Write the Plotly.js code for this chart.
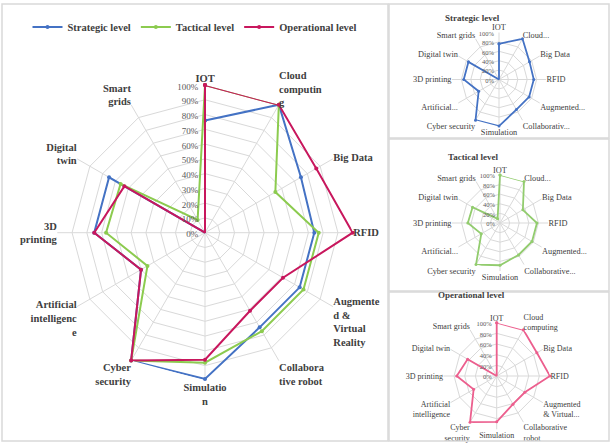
<!DOCTYPE html>
<html>
<head>
<meta charset="utf-8">
<script src="https://cdn.plot.ly/plotly-3.0.1.min.js"></script>
<style>html,body{margin:0;padding:0;background:#fff;}#chart{width:610px;height:443px;}</style>
</head>
<body>
<div id="chart"></div>
<script>
// ---- data ----
const categories = ['IOT','Cloud computing','Big Data','RFID','Augmented & Virtual Reality','Collaborative robot','Simulation','Cyber security','Artificial intelligence','3D printing','Digital twin','Smart grids'];
const strategic   = [0.76, 1.00, 0.75, 0.74, 0.74, 0.74, 0.99, 1.00, 0.50, 0.75, 0.75, 0.00];
const tactical    = [1.00, 1.00, 0.55, 0.77, 0.77, 0.77, 0.88, 1.00, 0.45, 0.67, 0.66, 0.10];
const operational = [1.00, 1.00, 0.87, 1.00, 0.61, 0.61, 0.86, 1.00, 0.50, 0.75, 0.63, 0.00];
const seriesNames = ['Strategic level','Tactical level','Operational level'];
const panelTitles = ['Strategic level','Tactical level','Operational level'];

const mainLabels = ['IOT','Cloud<br>computin<br>g','Big Data','RFID','Augmente<br>d &<br>Virtual<br>Reality','Collabora<br>tive robot','Simulatio<br>n','Cyber<br>security','Artificial<br>intelligenc<br>e','3D<br>printing','Digital<br>twin','Smart<br>grids'];
const strategicLabels = ['IOT','Cloud...','Big Data','RFID','Augmented...','Collaborativ...','Simulation','Cyber security','Artificial...','3D printing','Digital twin','Smart grids'];
const tacticalLabels = ['IOT','Cloud...','Big Data','RFID','Augmented...','Collaborative...','Simulation','Cyber security','Artificial...','3D printing','Digital twin','Smart grids'];
const operationalLabels = ['IOT','Cloud<br>computing','Big Data','RFID','Augmented<br>& Virtual...','Collaborative<br>robot','Simulation','Cyber<br>security','Artificial<br>intelligence','3D printing','Digital twin','Smart grids'];

// ---- styling ----
const W = 610, H = 443;
const mainColors = ['#4472C4', '#8CCB4F', '#C8175D'];
const smallColors = ['#4472C4', '#92CC6E', '#EC5F8E'];
const serif = 'Liberation Serif';

function closed(arr) { return arr.concat([arr[0]]); }
function bold(s) { return s.split('<br>').map(p => '<b>' + p + '</b>').join('<br>'); }

function domainFor(cx, cy, R) {
  return { x: [(cx - R) / W, (cx + R) / W], y: [(H - cy - R) / H, (H - cy + R) / H] };
}

const allSeries = [strategic, tactical, operational];
const traces = [];
allSeries.forEach((vals, i) => {
  traces.push({
    type: 'scatterpolar', subplot: 'polar', name: bold(seriesNames[i]),
    r: closed(vals), theta: closed(categories), mode: 'lines+markers',
    line: { color: mainColors[i], width: 2 },
    marker: { color: mainColors[i], size: 4 },
    hoverinfo: 'skip'
  });
});
allSeries.forEach((vals, i) => {
  traces.push({
    type: 'scatterpolar', subplot: 'polar' + (i + 2), name: seriesNames[i], showlegend: false,
    r: closed(vals), theta: closed(categories), mode: 'lines+markers',
    line: { color: smallColors[i], width: 1.8 },
    marker: { color: smallColors[i], size: 3 },
    hoverinfo: 'skip'
  });
});

function polarLayout(dom, labels, dtick, labelSize, tickSize) {
  return {
    domain: dom,
    gridshape: 'linear',
    bgcolor: 'rgba(0,0,0,0)',
    radialaxis: {
      range: [0, 1], dtick: dtick, tick0: 0, tickformat: '.0%', angle: 90, side: 'counterclockwise',
      showline: false, ticks: '', gridcolor: '#d9d9d9', gridwidth: 1,
      tickfont: { family: serif, size: tickSize, color: '#595959' }
    },
    angularaxis: {
      type: 'category', categoryarray: categories, rotation: 90, direction: 'clockwise',
      tickmode: 'array', tickvals: categories, ticktext: labels,
      showline: false, ticks: '', gridcolor: '#d9d9d9', gridwidth: 1,
      tickfont: { family: serif, size: labelSize, color: '#404040' }
    }
  };
}

function px(x) { return x / W; }
function py(y) { return 1 - y / H; }
const border = '#d9d9d9';
function rect(x0, y0, x1, y1) {
  return { type: 'rect', xref: 'paper', yref: 'paper', x0: px(x0), x1: px(x1), y0: py(y1), y1: py(y0),
    line: { color: border, width: 1.5 }, fillcolor: 'rgba(0,0,0,0)' };
}

const layout = {
  width: W, height: H,
  margin: { l: 0, r: 0, t: 0, b: 0 },
  paper_bgcolor: '#fff',
  font: { family: serif },
  showlegend: true,
  legend: {
    orientation: 'h', x: px(195), xanchor: 'center', y: py(27), yanchor: 'middle',
    font: { family: serif, size: 10.5, color: '#404040' },
    itemwidth: 30, tracegroupgap: 0, bgcolor: 'rgba(0,0,0,0)'
  },
  polar: polarLayout(domainFor(205, 232.7, 147.7), mainLabels.map(bold), 0.1, 10.5, 9),
  polar2: polarLayout(domainFor(499, 79.5, 47), strategicLabels, 0.2, 8.3, 6.5),
  polar3: polarLayout(domainFor(500, 223, 48), tacticalLabels, 0.2, 8.3, 6.5),
  polar4: polarLayout(domainFor(496.7, 376, 53.3), operationalLabels, 0.2, 8, 6.5),
  shapes: [rect(2, 4, 388, 441), rect(389, 4, 609, 138), rect(389, 139, 609, 291), rect(389, 292, 609, 441)],
  annotations: [
    { text: bold(panelTitles[0]), x: px(502), y: py(11), xref: 'paper', yref: 'paper', showarrow: false, font: { family: serif, size: 9, color: '#404040' } },
    { text: bold(panelTitles[1]), x: px(500), y: py(157), xref: 'paper', yref: 'paper', showarrow: false, font: { family: serif, size: 9, color: '#404040' } },
    { text: bold(panelTitles[2]), x: px(507), y: py(302), xref: 'paper', yref: 'paper', showarrow: false, font: { family: serif, size: 9, color: '#404040' } }
  ]
};

Plotly.newPlot('chart', traces, layout, { displayModeBar: false, staticPlot: true });
</script>
</body>
</html>
